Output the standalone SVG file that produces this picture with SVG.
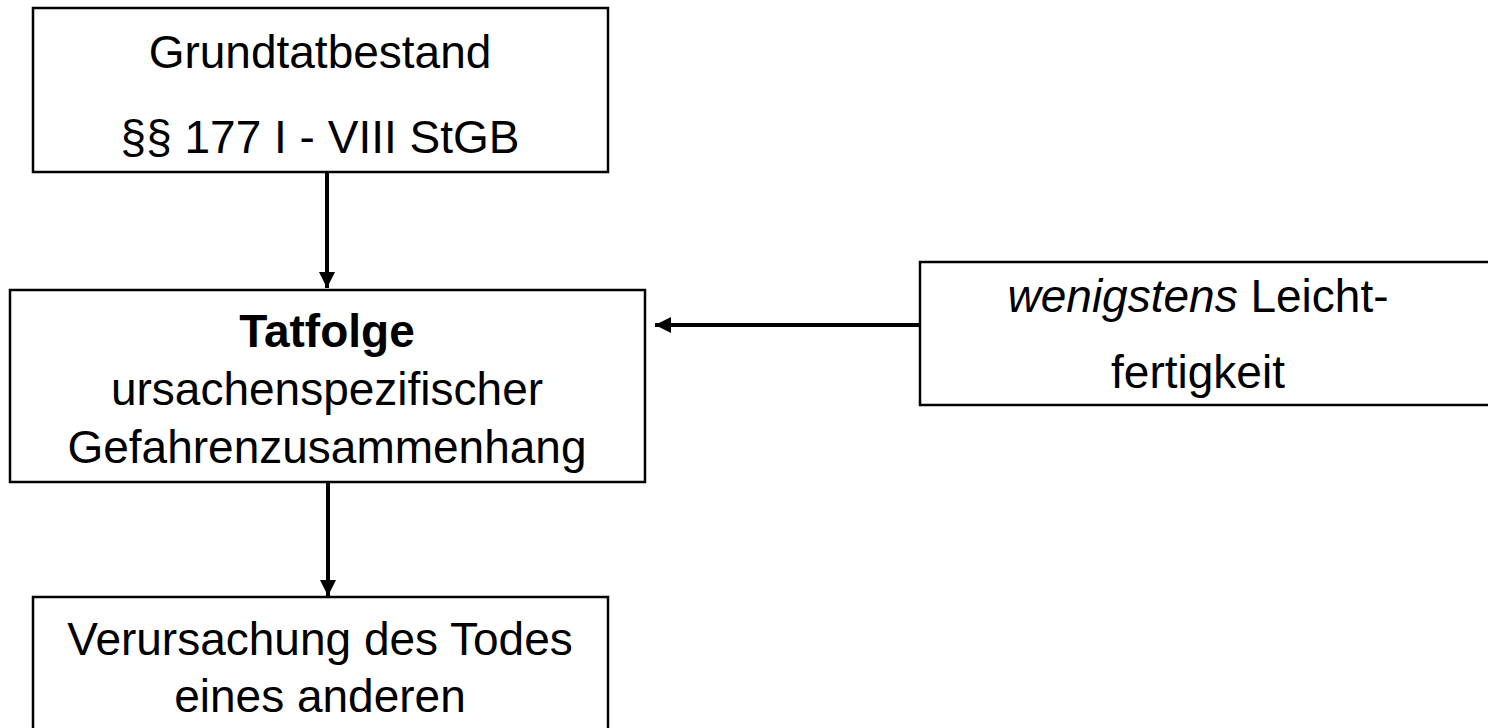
<svg xmlns="http://www.w3.org/2000/svg" width="1488" height="728" viewBox="0 0 1488 728">
<style>
.box{fill:#fff;stroke:#000;stroke-width:2.5}
.t{font-family:"Liberation Sans",Arial,sans-serif;font-size:46px;fill:#000;text-anchor:middle}
.b{font-weight:bold}
.i{font-style:italic}
.c{stroke:#000;stroke-width:4;fill:none}
</style>
<defs>
<marker id="ah" markerWidth="4" markerHeight="4" refX="4" refY="2" orient="auto" markerUnits="strokeWidth">
<path d="M0,0 L4,2 L0,4 Z" fill="#000"/>
</marker>
</defs>
<rect width="1488" height="728" fill="#fff"/>
<g id="connectors">
<line class="c" x1="327" y1="172" x2="327" y2="288" marker-end="url(#ah)"/>
<line class="c" x1="328" y1="482" x2="328" y2="596" marker-end="url(#ah)"/>
<line class="c" x1="920" y1="325" x2="655" y2="325" marker-end="url(#ah)"/>
</g>
<g id="n1">
<rect class="box" x="33" y="8" width="575" height="164"/>
<text class="t" x="320" y="68">Grundtatbestand</text>
<text class="t" x="320" y="153">§§ 177 I - VIII StGB</text>
</g>
<g id="n2">
<rect class="box" x="10" y="290" width="635" height="192"/>
<text class="t b" x="327" y="347">Tatfolge</text>
<text class="t" x="327" y="405">ursachenspezifischer</text>
<text class="t" x="327" y="463">Gefahrenzusammenhang</text>
</g>
<g id="n3">
<rect class="box" x="920" y="262" width="580" height="143"/>
<text class="t" x="1198" y="312"><tspan class="i">wenigstens</tspan> Leicht-</text>
<text class="t" x="1198" y="388">fertigkeit</text>
</g>
<g id="n4">
<rect class="box" x="33" y="597" width="575" height="150"/>
<text class="t" x="320" y="655">Verursachung des Todes</text>
<text class="t" x="320" y="712">eines anderen</text>
</g>
</svg>
